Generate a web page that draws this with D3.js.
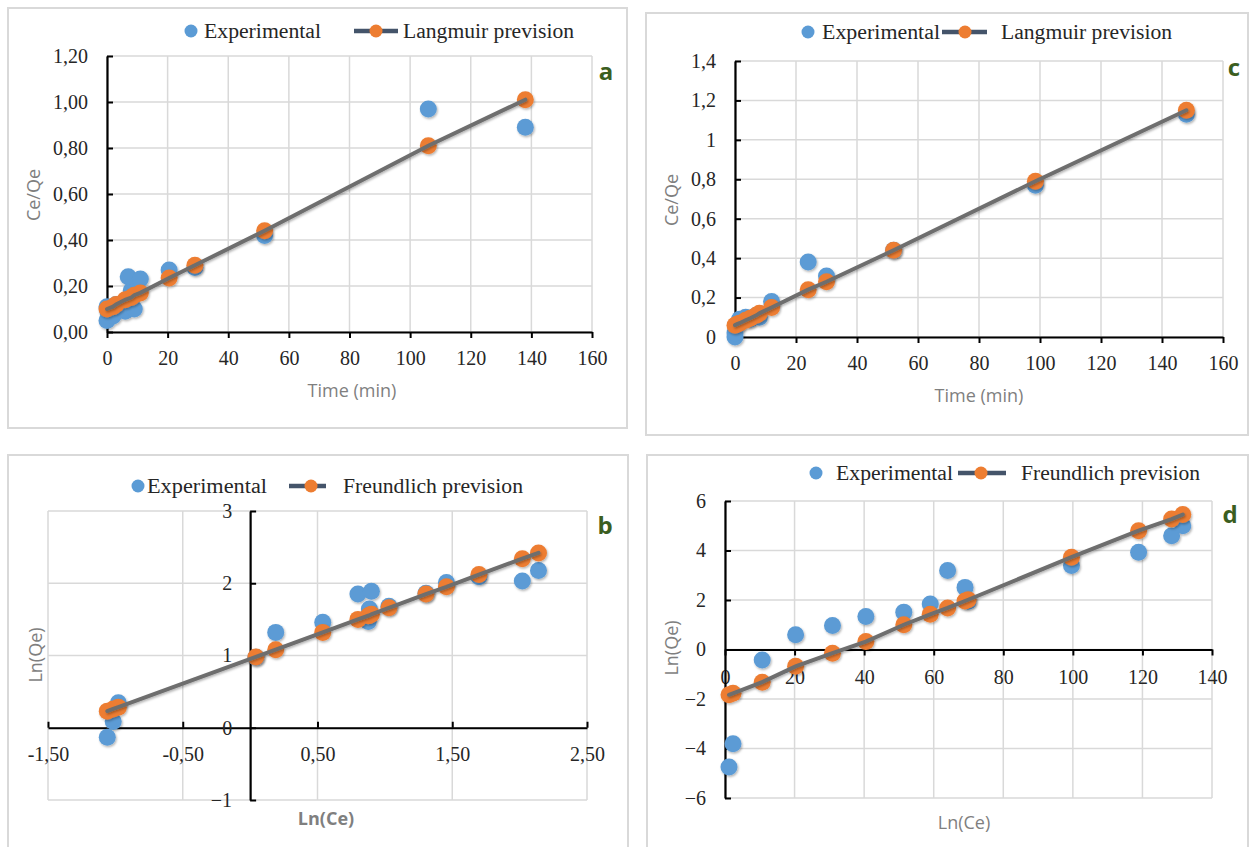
<!DOCTYPE html>
<html>
<head>
<meta charset="utf-8">
<script src="https://cdn.jsdelivr.net/npm/d3@7"></script>
<style>
  body { margin: 0; background: #fff; }
</style>
</head>
<body>
<svg id="fig" width="1250" height="847"></svg>
<script>
// panel a : Langmuir, first sample
var aExpTime = [0, 0, 0.3, 2, 3, 6, 9, 8, 7, 11, 20.5, 29, 52, 106, 138];
var aExpCeQe = [0.05, 0.11, 0.09, 0.07, 0.12, 0.09, 0.10, 0.18, 0.24, 0.23, 0.27, 0.28, 0.42, 0.97, 0.89];
var aFitTime = [0, 2, 3, 6, 8, 9, 11, 20.5, 29, 52, 106, 138];
var aFitCeQe = [0.10, 0.11, 0.12, 0.14, 0.15, 0.16, 0.17, 0.235, 0.29, 0.44, 0.81, 1.01];

// panel c : Langmuir, second sample
var cExpTime = [0, 0, 0.7, 1.5, 3.5, 5, 7, 8, 12, 24, 30, 52, 98.5, 148];
var cExpCeQe = [0.00, 0.02, 0.06, 0.09, 0.10, 0.09, 0.11, 0.10, 0.18, 0.38, 0.31, 0.44, 0.77, 1.13];
var cFitTime = [0, 0.7, 1.5, 3.5, 5, 7, 8, 12, 24, 30, 52, 98.5, 148];
var cFitCeQe = [0.06, 0.065, 0.07, 0.085, 0.095, 0.11, 0.12, 0.15, 0.24, 0.28, 0.44, 0.79, 1.15];

// panel b : Freundlich, first sample
var bExpLnCe = [-1.06, -1.016, -0.978, 0.043, 0.19, 0.539, 0.80, 0.90, 0.885, 0.877, 1.03, 1.305, 1.457, 1.698, 2.02, 2.14];
var bExpLnQe = [-0.13, 0.087, 0.345, 0.977, 1.32, 1.46, 1.85, 1.89, 1.645, 1.47, 1.68, 1.86, 2.01, 2.09, 2.03, 2.175];
var bFitLnCe = [-1.06, -1.016, -0.978, 0.043, 0.19, 0.539, 0.80, 0.877, 0.885, 0.90, 1.03, 1.305, 1.457, 1.698, 2.02, 2.14];
var bFitLnQe = [0.23, 0.26, 0.285, 0.98, 1.08, 1.32, 1.50, 1.55, 1.555, 1.57, 1.66, 1.85, 1.95, 2.12, 2.34, 2.42];

// panel d : Freundlich, second sample
var dExpLnCe = [1.15, 2.3, 10.7, 20.3, 30.9, 40.5, 51.4, 59, 64, 69, 69.9, 99.6, 118.9, 128.4, 131.6];
var dExpLnQe = [-4.75, -3.81, -0.42, 0.6, 0.97, 1.33, 1.51, 1.84, 3.19, 2.51, 1.95, 3.39, 3.93, 4.6, 5.0];
var dFitLnCe = [1.15, 2.3, 10.7, 20.3, 30.9, 40.5, 51.4, 59, 64, 69, 69.9, 99.6, 118.9, 128.4, 131.6];
var dFitLnQe = [-1.83, -1.77, -1.32, -0.68, -0.15, 0.32, 1.0, 1.42, 1.68, 1.96, 2.01, 3.73, 4.8, 5.27, 5.45];

// tick values / labels
var timeTicks = [0, 20, 40, 60, 80, 100, 120, 140, 160];
var aYTicks = [0, 0.2, 0.4, 0.6, 0.8, 1.0, 1.2];
var cYTicks = [0, 0.2, 0.4, 0.6, 0.8, 1.0, 1.2, 1.4];
var bXTicks = [-1.5, -0.5, 0.5, 1.5, 2.5];
var bYTicks = [-1, 0, 1, 2, 3];
var dXTicks = [0, 20, 40, 60, 80, 100, 120, 140];
var dYTicks = [-6, -4, -2, 0, 2, 4, 6];

var blue = "#5b9bd5", orange = "#ed7d31", fitLine = "#6e6e6e", legendLine = "#44546a";
var serif = "'Liberation Serif', 'Times New Roman', serif";
var sans = "'Open Sans', 'Noto Sans', sans-serif";

var svg = d3.select("#fig");

var defs = svg.append("defs");
var f = defs.append("filter").attr("id", "shadow")
    .attr("x", "-50%").attr("y", "-50%").attr("width", "200%").attr("height", "200%");
f.append("feDropShadow").attr("dx", 1).attr("dy", 1.5)
    .attr("stdDeviation", 1.3).attr("flood-color", "#000").attr("flood-opacity", 0.3);

function comma(fmt) {
    return function(d) { return d3.format(fmt)(d).replace(".", ",").replace("−", "-"); };
}

function zip(xs, ys) {
    return xs.map(function(x, i) { return [x, ys[i]]; });
}

function drawPanel(p) {
    var g = svg.append("g");

    // outer frame
    g.append("rect")
        .attr("x", p.frame[0]).attr("y", p.frame[1])
        .attr("width", p.frame[2] - p.frame[0]).attr("height", p.frame[3] - p.frame[1])
        .attr("fill", "none").attr("stroke", "#d9d9d9").attr("stroke-width", 2);

    var x = d3.scaleLinear().domain(p.xDomain).range(p.xRange);
    var y = d3.scaleLinear().domain(p.yDomain).range(p.yRange);

    // grid
    g.append("g").selectAll("line").data(p.xTicks).enter().append("line")
        .attr("x1", function(d) { return x(d); }).attr("x2", function(d) { return x(d); })
        .attr("y1", p.yRange[0]).attr("y2", p.yRange[1])
        .attr("stroke", "#d9d9d9").attr("stroke-width", 1.5);
    g.append("g").selectAll("line").data(p.yTicks).enter().append("line")
        .attr("y1", function(d) { return y(d); }).attr("y2", function(d) { return y(d); })
        .attr("x1", p.xRange[0]).attr("x2", p.xRange[1])
        .attr("stroke", "#d9d9d9").attr("stroke-width", 1.5);

    // axes, crossing at zero
    var xAxis = d3.axisBottom(x).tickValues(p.xTicks).tickFormat(p.xFormat)
        .tickSizeInner(p.xTickDir * 6).tickSizeOuter(0).tickPadding(p.xPad);
    var yAxis = d3.axisLeft(y).tickValues(p.yTicks).tickFormat(p.yFormat)
        .tickSizeInner(-6).tickSizeOuter(0).tickPadding(p.yPad);

    var gx = g.append("g").attr("transform", "translate(0," + y(0) + ")").call(xAxis);
    var gy = g.append("g").attr("transform", "translate(" + x(0) + ",0)").call(yAxis);
    [gx, gy].forEach(function(a) {
        a.select(".domain").attr("stroke", "#000").attr("stroke-width", 2.2);
        a.selectAll(".tick line").attr("stroke", "#000").attr("stroke-width", 2);
        a.selectAll("text").attr("font-family", serif).attr("font-size", 20).attr("fill", "#262626");
    });

    // markers
    var exp = zip(p.expX, p.expY), fit = zip(p.fitX, p.fitY);
    g.append("g").attr("filter", "url(#shadow)").selectAll("circle").data(exp).enter().append("circle")
        .attr("cx", function(d) { return x(d[0]); }).attr("cy", function(d) { return y(d[1]); })
        .attr("r", 8.5).attr("fill", blue);
    g.append("g").attr("filter", "url(#shadow)").selectAll("circle").data(fit).enter().append("circle")
        .attr("cx", function(d) { return x(d[0]); }).attr("cy", function(d) { return y(d[1]); })
        .attr("r", 8.5).attr("fill", orange);

    var line = d3.line().x(function(d) { return x(d[0]); }).y(function(d) { return y(d[1]); });
    g.append("path").datum(fit).attr("d", line)
        .attr("fill", "none").attr("stroke", fitLine).attr("stroke-width", 4)
        .attr("stroke-linecap", "round").attr("filter", "url(#shadow)");

    // axis titles
    g.append("text").attr("x", p.xTitle[0]).attr("y", p.xTitle[1])
        .attr("text-anchor", "middle").attr("dominant-baseline", "central")
        .attr("font-family", sans).attr("font-size", 18).attr("fill", "#7f7f7f")
        .attr("font-weight", p.xTitleBold ? "bold" : "normal")
        .text(p.xLabel);
    g.append("text")
        .attr("transform", "translate(" + p.yTitle[0] + "," + p.yTitle[1] + ") rotate(-90)")
        .attr("text-anchor", "middle").attr("dominant-baseline", "central")
        .attr("font-family", sans).attr("font-size", 18).attr("fill", "#7f7f7f")
        .text(p.yLabel);

    // legend
    var L = p.legend;
    g.append("circle").attr("cx", L.dot).attr("cy", L.y).attr("r", 6.5).attr("fill", blue);
    g.append("text").attr("x", L.text1).attr("y", L.y).attr("dominant-baseline", "central")
        .attr("font-family", serif).attr("font-size", 20.5).attr("fill", "#262626")
        .attr("textLength", L.w1).attr("lengthAdjust", "spacingAndGlyphs")
        .text("Experimental");
    g.append("line").attr("x1", L.line[0]).attr("x2", L.line[1]).attr("y1", L.y).attr("y2", L.y)
        .attr("stroke", legendLine).attr("stroke-width", 4.5);
    g.append("circle").attr("cx", L.line[2]).attr("cy", L.y).attr("r", 6.5).attr("fill", orange);
    g.append("text").attr("x", L.text2).attr("y", L.y).attr("dominant-baseline", "central")
        .attr("font-family", serif).attr("font-size", 20.5).attr("fill", "#262626")
        .attr("textLength", L.w2).attr("lengthAdjust", "spacingAndGlyphs")
        .text(p.fitName);

    // panel letter
    g.append("text").attr("x", p.letterPos[0]).attr("y", p.letterPos[1])
        .attr("text-anchor", "middle").attr("dominant-baseline", "central")
        .attr("font-family", sans).attr("font-weight", "bold").attr("font-size", 24)
        .attr("fill", "#3b5e1f").text(p.letter);
}

drawPanel({
    frame: [8, 8, 627, 428],
    xDomain: [0, 160], xRange: [107, 592],
    yDomain: [0, 1.2], yRange: [332, 56],
    xTicks: timeTicks, yTicks: aYTicks,
    xFormat: d3.format("d"), yFormat: comma(".2f"),
    xTickDir: 1, xPad: 13, yPad: 19,
    expX: aExpTime, expY: aExpCeQe, fitX: aFitTime, fitY: aFitCeQe,
    xLabel: "Time (min)", yLabel: "Ce/Qe",
    xTitle: [352, 390], yTitle: [33, 195],
    fitName: "Langmuir prevision",
    legend: { y: 31, dot: 191, text1: 204, w1: 117, line: [354, 398, 376], text2: 403, w2: 171 },
    letter: "a", letterPos: [606, 70]
});

drawPanel({
    frame: [646, 13, 1248, 435],
    xDomain: [0, 160], xRange: [735, 1223],
    yDomain: [0, 1.4], yRange: [337, 61],
    xTicks: timeTicks, yTicks: cYTicks,
    xFormat: d3.format("d"), yFormat: function(d) { return String(+d.toFixed(1)).replace(".", ","); },
    xTickDir: 1, xPad: 13, yPad: 19,
    expX: cExpTime, expY: cExpCeQe, fitX: cFitTime, fitY: cFitCeQe,
    xLabel: "Time (min)", yLabel: "Ce/Qe",
    xTitle: [979, 395], yTitle: [671, 200],
    fitName: "Langmuir prevision",
    legend: { y: 32, dot: 808, text1: 822, w1: 118, line: [942, 987, 965], text2: 1001, w2: 171 },
    letter: "c", letterPos: [1234, 66]
});

drawPanel({
    frame: [8, 455, 628, 860],
    xDomain: [-1.5, 2.5], xRange: [48, 587],
    yDomain: [-1, 3], yRange: [800, 511],
    xTicks: bXTicks, yTicks: bYTicks,
    xFormat: comma(".2f"), yFormat: d3.format("d"),
    xTickDir: -1, xPad: 19, yPad: 18,
    expX: bExpLnCe, expY: bExpLnQe, fitX: bFitLnCe, fitY: bFitLnQe,
    xLabel: "Ln(Ce)", xTitleBold: true, yLabel: "Ln(Qe)",
    xTitle: [326, 818], yTitle: [35, 655],
    fitName: "Freundlich prevision",
    legend: { y: 486, dot: 138, text1: 147, w1: 120, line: [289, 326, 311], text2: 343, w2: 180 },
    letter: "b", letterPos: [605, 524]
});

drawPanel({
    frame: [647, 455, 1248, 860],
    xDomain: [0, 140], xRange: [725, 1212],
    yDomain: [-6, 6], yRange: [798, 501],
    xTicks: dXTicks, yTicks: dYTicks,
    xFormat: d3.format("d"), yFormat: d3.format("d"),
    xTickDir: 1, xPad: 14, yPad: 19,
    expX: dExpLnCe, expY: dExpLnQe, fitX: dFitLnCe, fitY: dFitLnQe,
    xLabel: "Ln(Ce)", yLabel: "Ln(Qe)",
    xTitle: [964, 822], yTitle: [671, 648],
    fitName: "Freundlich prevision",
    legend: { y: 473, dot: 816, text1: 836, w1: 117, line: [958, 1006, 981], text2: 1021, w2: 179 },
    letter: "d", letterPos: [1230, 513]
});
</script>
</body>
</html>
